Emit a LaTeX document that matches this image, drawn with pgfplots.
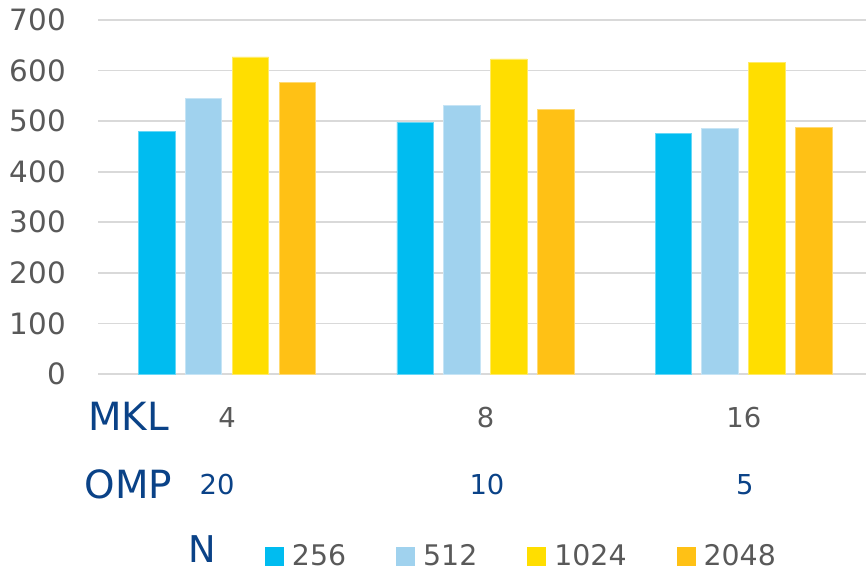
\documentclass[border=0pt]{standalone}
\usepackage{pgfplots}
\pgfplotsset{compat=1.18}
\usepackage{fontspec}
\setmainfont{DejaVu Sans}

\definecolor{c256}{HTML}{00BCF0}
\definecolor{c512}{HTML}{A0D2EE}
\definecolor{c1024}{HTML}{FFDE00}
\definecolor{c2048}{HTML}{FFC115}
\definecolor{txtgrey}{HTML}{595959}
\definecolor{navy}{HTML}{0A4287}
\definecolor{gridgrey}{HTML}{D9D9D9}

\begin{document}
\begin{tikzpicture}
\path[use as bounding box] (0,0) rectangle (866bp,572bp);
\begin{axis}[
  at={(98bp,198bp)}, anchor=south west,
  width=768bp, height=354bp, scale only axis,
  xmin=-0.5, xmax=2.473, ymin=0, ymax=700,
  ytick={0,100,...,700},
  xtick={0,1,2}, xticklabels={4,8,16},
  axis line style={draw=none},
  major tick length=0pt,
  ymajorgrids, grid style={gridgrey, line width=1.6bp},
  /pgf/number format/assume math mode=true,
  yticklabel style={font=\fontsize{29.5}{30}\selectfont, text=txtgrey,
    inner sep=0pt, anchor=east, xshift=-32bp},
  xticklabel style={font=\fontsize{27.5}{28}\selectfont, text=txtgrey,
    inner sep=0pt, anchor=center, yshift=-44bp},
  ybar, bar width=36.5bp,
  clip=false,
  legend columns=-1,
  legend image code/.code={\fill[#1, draw=none] (0bp,-9.5bp) rectangle (19bp,9.5bp);},
  legend style={at={(0.2174,-0.5145)}, anchor=west, draw=none, fill=none,
    inner sep=0pt, outer sep=0pt,
    font=\fontsize{28.5}{29}\selectfont, text=txtgrey,
    nodes={inner sep=0pt},
    /tikz/every odd column/.append style={column sep=8bp},
    /tikz/every even column/.append style={column sep=50bp}},
]
\addplot[fill=c256, draw=c256!60!white, line width=0.8bp, bar shift=-70.3bp]
  coordinates {(0,479) (1,498) (2,475)};
\addplot[fill=c512, draw=c512!60!white, line width=0.8bp, bar shift=-23.8bp]
  coordinates {(0,545) (1,531) (2,486)};
\addplot[fill=c1024, draw=c1024!60!white, line width=0.8bp, bar shift=23.3bp]
  coordinates {(0,627) (1,623) (2,616)};
\addplot[fill=c2048, draw=c2048!60!white, line width=0.8bp, bar shift=70.2bp]
  coordinates {(0,576) (1,523) (2,488)};
\legend{256,512,1024,2048}

% row captions
\node[font=\fontsize{39}{39}\selectfont, text=navy, inner sep=0pt]
  at (rel axis cs:0,0) [xshift=30.6bp, yshift=-42bp] {MKL};
\node[font=\fontsize{39}{39}\selectfont, text=navy, inner sep=0pt]
  at (rel axis cs:0,0) [xshift=30.6bp, yshift=-110bp] {OMP};
\node[font=\fontsize{37}{37}\selectfont, text=navy, inner sep=0pt]
  at (rel axis cs:0,0) [xshift=104.5bp, yshift=-175bp] {N};

% OMP thread counts
\node[font=\fontsize{27.5}{28}\selectfont, text=navy, inner sep=0pt]
  at (axis cs:0,0) [xshift=-10bp, yshift=-111bp] {20};
\node[font=\fontsize{27.5}{28}\selectfont, text=navy, inner sep=0pt]
  at (axis cs:1,0) [xshift=1.5bp, yshift=-111bp] {10};
\node[font=\fontsize{27.5}{28}\selectfont, text=navy, inner sep=0pt]
  at (axis cs:2,0) [xshift=1bp, yshift=-111bp] {5};
\end{axis}
\end{tikzpicture}
\end{document}
